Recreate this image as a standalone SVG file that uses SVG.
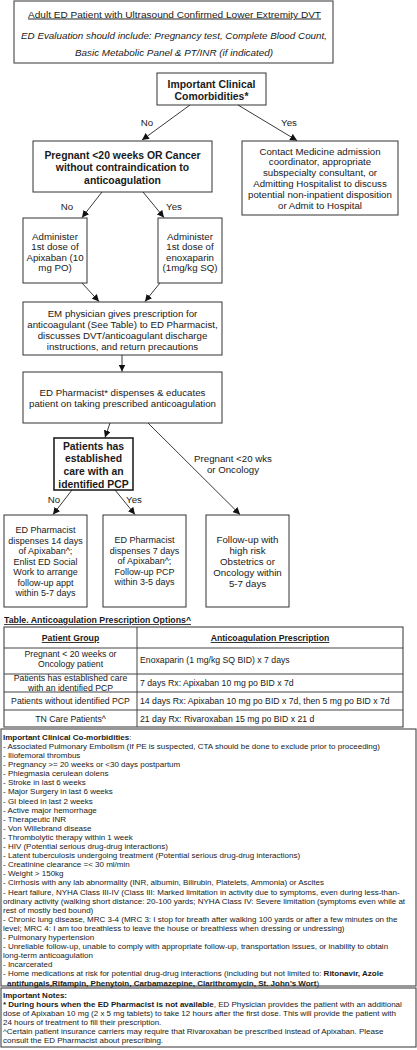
<svg xmlns="http://www.w3.org/2000/svg" width="417" height="1050" viewBox="0 0 417 1050">
<defs>
<marker id="ah" markerUnits="userSpaceOnUse" markerWidth="8" markerHeight="7" refX="7" refY="3.5" orient="auto"><path d="M0,0 L7,3.5 L0,7 z" fill="#111"/></marker>
</defs>
<style>
text{font-family:"Liberation Sans",Arial,Helvetica,sans-serif;fill:#1a1a1a}
.box{fill:#fff;stroke:#333;stroke-width:1}
.t{font-size:9.7px;text-anchor:middle}
.b{font-size:10.4px;font-weight:bold;text-anchor:middle}
.s9{font-size:9px;text-anchor:middle}
.edge{stroke:#222;stroke-width:0.9;fill:none;marker-end:url(#ah)}
.tb{font-size:8.7px}
.tc{font-size:8.7px;text-anchor:middle}
.th{font-size:8.7px;font-weight:bold;text-anchor:middle;text-decoration:underline}
.li{font-size:8px}
.bd{font-weight:bold}
.tl{stroke:#444;stroke-width:1}
</style>
<rect x="0" y="0" width="417" height="1050" fill="#fff"/>

<g id="header">
<rect x="14" y="1" width="319" height="62" fill="#fff" stroke="#555" stroke-width="1.2"/>
<text x="174.5" y="17.5" text-anchor="middle" font-size="9.6" text-decoration="underline" textLength="293" lengthAdjust="spacingAndGlyphs">Adult ED Patient with Ultrasound Confirmed Lower Extremity DVT</text>
<text x="174" y="38.5" text-anchor="middle" font-size="9.6" font-style="italic" textLength="306" lengthAdjust="spacingAndGlyphs">ED Evaluation should include: Pregnancy test, Complete Blood Count,</text>
<text x="174" y="55.5" text-anchor="middle" font-size="9.6" font-style="italic" textLength="198" lengthAdjust="spacingAndGlyphs">Basic Metabolic Panel &amp; PT/INR (if indicated)</text>
</g>

<g id="comorbidities">
<rect class="box" x="157" y="73" width="109" height="32"/>
<text class="b" x="211.5" y="87.5">Important Clinical</text>
<text class="b" x="211.5" y="99.5">Comorbidities*</text>
</g>

<g id="pregnant-cancer">
<rect class="box" x="33" y="141" width="179" height="51"/>
<text class="b" x="122.5" y="158.5">Pregnant &lt;20 weeks OR Cancer</text>
<text class="b" x="122.5" y="171">without contraindication to</text>
<text class="b" x="122.5" y="183.5">anticoagulation</text>
</g>

<g id="contact-medicine">
<rect class="box" x="242" y="141" width="156" height="74"/>
<text class="t" x="320" y="154.5">Contact Medicine admission</text>
<text class="t" x="320" y="165.3">coordinator, appropriate</text>
<text class="t" x="320" y="176.1">subspecialty consultant, or</text>
<text class="t" x="320" y="186.9">Admitting Hospitalist to discuss</text>
<text class="t" x="320" y="197.7">potential non-inpatient disposition</text>
<text class="t" x="320" y="208.5">or Admit to Hospital</text>
</g>

<g id="apixaban-dose">
<rect class="box" x="23" y="218" width="64" height="65"/>
<text class="t" x="55" y="239.5">Administer</text>
<text class="t" x="55" y="250">1st dose of</text>
<text class="t" x="55" y="260.5">Apixaban (10</text>
<text class="t" x="55" y="271">mg PO)</text>
</g>

<g id="enoxaparin-dose">
<rect class="box" x="158" y="218" width="64" height="65"/>
<text class="t" x="190" y="239.5">Administer</text>
<text class="t" x="190" y="250">1st dose of</text>
<text class="t" x="190" y="260.5">enoxaparin</text>
<text class="t" x="190" y="271">(1mg/kg SQ)</text>
</g>

<g id="em-physician">
<rect class="box" x="23" y="302" width="199" height="53"/>
<text class="t" x="122.5" y="316.5">EM physician gives prescription for</text>
<text class="t" x="122.5" y="327.5">anticoagulant (See Table) to ED Pharmacist,</text>
<text class="t" x="122.5" y="338.5">discusses DVT/anticoagulant discharge</text>
<text class="t" x="122.5" y="349.5">instructions, and return precautions</text>
</g>

<g id="ed-pharmacist">
<rect class="box" x="23" y="372" width="199" height="51"/>
<text class="t" x="122.5" y="395.5">ED Pharmacist* dispenses &amp; educates</text>
<text class="t" x="122.5" y="406.5">patient on taking prescribed anticoagulation</text>
</g>

<g id="pcp-decision">
<rect x="54" y="438" width="79" height="52" fill="#fff" stroke="#222" stroke-width="1.6"/>
<text class="b" x="93.5" y="449.5">Patients has</text>
<text class="b" x="93.5" y="462.2">established</text>
<text class="b" x="93.5" y="474.8">care with an</text>
<text class="b" x="93.5" y="487.5">identified PCP</text>
</g>

<g id="no-pcp">
<rect class="box" x="4" y="515" width="83" height="92"/>
<text class="s9" x="45.5" y="533.2">ED Pharmacist</text>
<text class="s9" x="45.5" y="543.7">dispenses 14 days</text>
<text class="s9" x="45.5" y="554.2">of Apixaban^;</text>
<text class="s9" x="45.5" y="564.7">Enlist ED Social</text>
<text class="s9" x="45.5" y="575.2">Work to arrange</text>
<text class="s9" x="45.5" y="585.7">follow-up appt</text>
<text class="s9" x="45.5" y="596.2">within 5-7 days</text>
</g>

<g id="has-pcp">
<rect class="box" x="103" y="515" width="83" height="92"/>
<text class="s9" x="144.5" y="543.2">ED Pharmacist</text>
<text class="s9" x="144.5" y="553.7">dispenses 7 days</text>
<text class="s9" x="144.5" y="564.2">of Apixaban^;</text>
<text class="s9" x="144.5" y="574.7">Follow-up PCP</text>
<text class="s9" x="144.5" y="585.2">within 3-5 days</text>
</g>

<g id="high-risk-followup">
<rect class="box" x="206" y="515" width="83" height="92"/>
<text class="t" x="247.5" y="542.5">Follow-up with</text>
<text class="t" x="247.5" y="553.5">high risk</text>
<text class="t" x="247.5" y="564.5">Obstetrics or</text>
<text class="t" x="247.5" y="575.5">Oncology within</text>
<text class="t" x="247.5" y="586.5">5-7 days</text>
</g>

<g id="connectors">
<line class="edge" x1="190" y1="105" x2="142" y2="140"/>
<line class="edge" x1="238" y1="105" x2="297" y2="140.5"/>
<text class="t" x="147" y="125.5">No</text>
<text class="t" x="289" y="125.5">Yes</text>
<line class="edge" x1="102" y1="192" x2="82" y2="217.5"/>
<line class="edge" x1="143" y1="192" x2="164" y2="217.5"/>
<text class="t" x="67" y="209.5">No</text>
<text class="t" x="174" y="209.5">Yes</text>
<line class="edge" x1="82" y1="283" x2="99" y2="301.5"/>
<line class="edge" x1="160" y1="283" x2="145" y2="301.5"/>
<line class="edge" x1="122" y1="355" x2="122" y2="371.5"/>
<line class="edge" x1="110" y1="423" x2="105" y2="437.5"/>
<line class="edge" x1="148" y1="423" x2="240" y2="514.5"/>
<text class="t" x="233" y="461.5">Pregnant &lt;20 wks</text>
<text class="t" x="233" y="473">or Oncology</text>
<line class="edge" x1="72" y1="490" x2="53" y2="514.5"/>
<line class="edge" x1="115" y1="490" x2="135" y2="514.5"/>
<text class="t" x="54" y="502.5">No</text>
<text class="t" x="134" y="502.5">Yes</text>
</g>

<g id="prescription-table">
<text x="4" y="623" font-size="8.2" font-weight="bold" text-decoration="underline" textLength="187" lengthAdjust="spacingAndGlyphs">Table. Anticoagulation Prescription Options^</text>
<rect x="4" y="627" width="399" height="100" fill="#fff" stroke="#444" stroke-width="1.1"/>
<line class="tl" x1="137" y1="627" x2="137" y2="727"/>
<line class="tl" x1="4" y1="648" x2="403" y2="648"/>
<line class="tl" x1="4" y1="674" x2="403" y2="674"/>
<line class="tl" x1="4" y1="692" x2="403" y2="692"/>
<line class="tl" x1="4" y1="710" x2="403" y2="710"/>
<text class="th" x="70.5" y="641">Patient Group</text>
<text class="th" x="270" y="641">Anticoagulation Prescription</text>
<text class="tc" x="70.5" y="657">Pregnant &lt; 20 weeks or</text>
<text class="tc" x="70.5" y="667">Oncology patient</text>
<text class="tb" x="140" y="663">Enoxaparin (1 mg/kg SQ BID) x 7 days</text>
<text class="tc" x="70.5" y="681">Patients has established care</text>
<text class="tc" x="70.5" y="691">with an identified PCP</text>
<text class="tb" x="140" y="686">7 days Rx: Apixaban 10 mg po BID x 7d</text>
<text class="tc" x="70.5" y="704">Patients without identified PCP</text>
<text class="tb" x="140" y="704">14 days Rx: Apixaban 10 mg po BID x 7d, then 5 mg po BID x 7d</text>
<text class="tc" x="70.5" y="721.5">TN Care Patients^</text>
<text class="tb" x="140" y="721.5">21 day Rx: Rivaroxaban 15 mg po BID x 21 d</text>
</g>

<g id="comorbidity-list">
<rect x="1" y="729" width="415" height="257" fill="#fff" stroke="#444" stroke-width="1.1"/>
<text class="li" x="3" y="739.8"><tspan class="bd">Important Clinical Co-morbidities</tspan>:</text>
<text class="li" x="3" y="748.9">- Associated Pulmonary Embolism (If PE is suspected, CTA should be done to exclude prior to proceeding)</text>
<text class="li" x="3" y="758">- Iliofemoral thrombus</text>
<text class="li" x="3" y="767.1">- Pregnancy &gt;= 20 weeks or &lt;30 days postpartum</text>
<text class="li" x="3" y="776.2">- Phlegmasia cerulean dolens</text>
<text class="li" x="3" y="785.3">- Stroke in last 6 weeks</text>
<text class="li" x="3" y="794.4">- Major Surgery in last 6 weeks</text>
<text class="li" x="3" y="803.5">- GI bleed in last 2 weeks</text>
<text class="li" x="3" y="812.6">- Active major hemorrhage</text>
<text class="li" x="3" y="821.7">- Therapeutic INR</text>
<text class="li" x="3" y="830.8">- Von Willebrand disease</text>
<text class="li" x="3" y="839.9">- Thrombolytic therapy within 1 week</text>
<text class="li" x="3" y="849">- HIV (Potential serious drug-drug interactions)</text>
<text class="li" x="3" y="858.1">- Latent tuberculosis undergoing treatment (Potential serious drug-drug interactions)</text>
<text class="li" x="3" y="867.2">- Creatinine clearance =&lt; 30 ml/min</text>
<text class="li" x="3" y="876.3">- Weight  &gt; 150kg</text>
<text class="li" x="3" y="885.4">- Cirrhosis with any lab abnormality (INR, albumin, Bilirubin, Platelets, Ammonia) or  Ascites</text>
<text class="li" x="3" y="894.5">- Heart failure, NYHA Class III-IV (Class III: Marked limitation in activity due to symptoms, even during less-than-</text>
<text class="li" x="3" y="903.6">ordinary activity (walking short distance: 20-100 yards; NYHA Class IV: Severe limitation (symptoms even while at</text>
<text class="li" x="3" y="912.7">rest of mostly bed bound)</text>
<text class="li" x="3" y="921.8">- Chronic lung disease, MRC 3-4 (MRC 3: I stop for breath after walking 100 yards or after a few minutes on the</text>
<text class="li" x="3" y="930.9">level; MRC 4: I am too breathless to leave the house or breathless when dressing or undressing)</text>
<text class="li" x="3" y="940">- Pulmonary hypertension</text>
<text class="li" x="3" y="949.1">- Unreliable follow-up, unable to comply with appropriate follow-up, transportation issues, or inability to obtain</text>
<text class="li" x="3" y="958.2">long-term anticoagulation</text>
<text class="li" x="3" y="967.3">- Incarcerated</text>
<text class="li" x="3" y="976.4">- Home medications at risk for potential drug-drug interactions (including but not limited to: <tspan class="bd">Ritonavir, Azole</tspan></text>
<text class="li" x="7" y="985.5"><tspan class="bd">antifungals,Rifampin, Phenytoin, Carbamazepine, Clarithromycin, St. John’s Wort</tspan>)</text>
</g>

<g id="important-notes">
<rect x="1" y="988" width="415" height="59" fill="#fff" stroke="#444" stroke-width="1.1"/>
<text class="li bd" x="3" y="997.8">Important Notes:</text>
<text class="li" x="3" y="1006.8"><tspan class="bd">* During hours when the ED Pharmacist is not available</tspan>, ED Physician provides the patient with an additional</text>
<text class="li" x="3" y="1015.8">dose of Apixaban 10 mg (2 x 5 mg tablets) to take 12 hours after the first dose. This will provide the patient with</text>
<text class="li" x="3" y="1024.8">24 hours of treatment to fill their prescription.</text>
<text class="li" x="3" y="1033.8">^Certain patient insurance carriers may require that Rivaroxaban be prescribed instead of Apixaban. Please</text>
<text class="li" x="3" y="1042.8">consult the ED Pharmacist about prescribing.</text>
</g>
</svg>
